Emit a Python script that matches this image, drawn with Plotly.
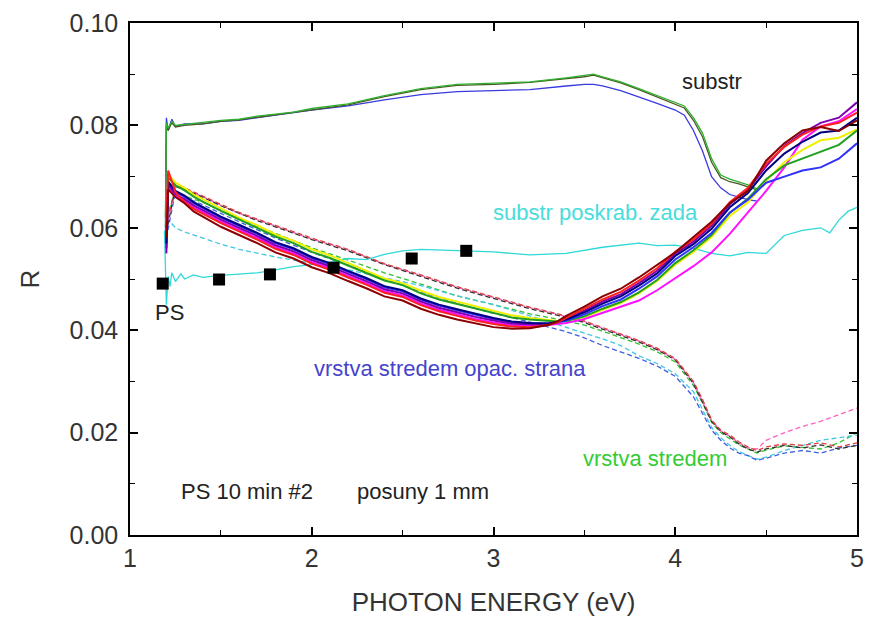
import plotly.graph_objects as go

# ---------------- photon energies (eV) ----------------
ps_E = [1.20, 1.21, 1.25, 1.30, 1.35, 1.40, 1.50, 1.60, 1.70, 1.80, 1.90, 2.00, 2.10,
        2.20, 2.30, 2.40, 2.50, 2.60, 2.70, 2.80, 2.90, 3.00, 3.10, 3.20, 3.30, 3.35,
        3.40, 3.50, 3.60, 3.70, 3.80, 3.90, 4.00, 4.10, 4.20, 4.30, 4.40, 4.50, 4.60,
        4.70, 4.80, 4.90, 5.00]

dash_E = [1.20, 1.25, 1.30, 1.40, 1.50, 1.60, 1.70, 1.80, 1.90, 2.00, 2.20, 2.40, 2.60,
          2.80, 3.00, 3.20, 3.40, 3.50, 3.60, 3.70, 3.80, 3.90, 4.00, 4.10, 4.15, 4.20,
          4.25, 4.30, 4.35, 4.40, 4.45, 4.50, 4.60, 4.70, 4.80, 4.90, 5.00]

sub_E = [1.195, 1.20, 1.21, 1.23, 1.25, 1.30, 1.40, 1.50, 1.60, 1.70, 1.80, 1.90, 2.00,
         2.20, 2.40, 2.60, 2.80, 3.00, 3.20, 3.40, 3.50, 3.55, 3.60, 3.70, 3.80, 3.90,
         4.00, 4.05, 4.10, 4.15, 4.20, 4.25, 4.30, 4.35, 4.40, 4.45]

cyan_E = [1.19, 1.20, 1.21, 1.22, 1.23, 1.25, 1.28, 1.30, 1.35, 1.40, 1.50, 1.60, 1.70,
          1.80, 1.90, 2.00, 2.10, 2.20, 2.30, 2.40, 2.50, 2.60, 2.80, 3.00, 3.20, 3.40,
          3.60, 3.80, 3.90, 4.00, 4.10, 4.20, 4.30, 4.40, 4.50, 4.60, 4.70, 4.80, 4.85,
          4.90, 4.95, 5.00]

# ---------------- reflectance, PS layer (solid) ----------------
R_yellow = [0.0580, 0.0705, 0.0688, 0.0678, 0.0665, 0.0656, 0.0637, 0.0620, 0.0605, 0.0587,
            0.0575, 0.0558, 0.0546, 0.0531, 0.0517, 0.0501, 0.0492, 0.0477, 0.0465, 0.0456,
            0.0446, 0.0437, 0.0429, 0.0424, 0.0420, 0.0418, 0.0419, 0.0426, 0.0440, 0.0453,
            0.0472, 0.0496, 0.0528, 0.0553, 0.0582, 0.0623, 0.0650, 0.0692, 0.0728, 0.0752,
            0.0771, 0.0776, 0.0792]
R_green = [0.0560, 0.0698, 0.0683, 0.0673, 0.0661, 0.0651, 0.0633, 0.0616, 0.0600, 0.0583,
           0.0570, 0.0553, 0.0541, 0.0526, 0.0512, 0.0497, 0.0488, 0.0472, 0.0460, 0.0451,
           0.0442, 0.0433, 0.0425, 0.0421, 0.0418, 0.0417, 0.0418, 0.0427, 0.0442, 0.0455,
           0.0474, 0.0498, 0.0531, 0.0556, 0.0586, 0.0629, 0.0657, 0.0695, 0.0722, 0.0735,
           0.0748, 0.0762, 0.0790]
R_blue = [0.0600, 0.0688, 0.0670, 0.0661, 0.0648, 0.0639, 0.0620, 0.0604, 0.0588, 0.0570,
          0.0558, 0.0541, 0.0529, 0.0514, 0.0500, 0.0484, 0.0476, 0.0460, 0.0448, 0.0439,
          0.0430, 0.0422, 0.0416, 0.0413, 0.0413, 0.0415, 0.0419, 0.0431, 0.0447, 0.0460,
          0.0481, 0.0505, 0.0538, 0.0562, 0.0590, 0.0630, 0.0655, 0.0688, 0.0700, 0.0712,
          0.0718, 0.0735, 0.0765]
R_navy = [0.0570, 0.0690, 0.0672, 0.0663, 0.0650, 0.0641, 0.0622, 0.0606, 0.0590, 0.0572,
          0.0560, 0.0543, 0.0531, 0.0516, 0.0502, 0.0486, 0.0478, 0.0462, 0.0450, 0.0441,
          0.0432, 0.0424, 0.0417, 0.0414, 0.0413, 0.0416, 0.0421, 0.0435, 0.0452, 0.0466,
          0.0487, 0.0511, 0.0545, 0.0568, 0.0598, 0.0640, 0.0668, 0.0712, 0.0745, 0.0768,
          0.0786, 0.0790, 0.0815]
R_purple = [0.0550, 0.0684, 0.0666, 0.0656, 0.0644, 0.0635, 0.0616, 0.0600, 0.0584, 0.0566,
            0.0554, 0.0537, 0.0525, 0.0510, 0.0496, 0.0480, 0.0472, 0.0456, 0.0444, 0.0435,
            0.0426, 0.0419, 0.0413, 0.0411, 0.0412, 0.0416, 0.0423, 0.0438, 0.0456, 0.0470,
            0.0492, 0.0516, 0.0549, 0.0573, 0.0604, 0.0646, 0.0674, 0.0720, 0.0760, 0.0785,
            0.0805, 0.0815, 0.0845]
R_magenta = [0.0560, 0.0680, 0.0662, 0.0652, 0.0640, 0.0631, 0.0612, 0.0596, 0.0580, 0.0562,
             0.0550, 0.0533, 0.0521, 0.0506, 0.0492, 0.0476, 0.0468, 0.0452, 0.0440, 0.0431,
             0.0422, 0.0415, 0.0410, 0.0409, 0.0410, 0.0412, 0.0414, 0.0422, 0.0434, 0.0445,
             0.0458, 0.0478, 0.0502, 0.0525, 0.0552, 0.0588, 0.0630, 0.0672, 0.0718, 0.0772,
             0.0798, 0.0808, 0.0832]
R_red = [0.0620, 0.0712, 0.0670, 0.0650, 0.0637, 0.0628, 0.0609, 0.0593, 0.0577, 0.0559,
         0.0547, 0.0530, 0.0518, 0.0503, 0.0489, 0.0473, 0.0465, 0.0449, 0.0437, 0.0428,
         0.0419, 0.0412, 0.0407, 0.0406, 0.0410, 0.0415, 0.0424, 0.0441, 0.0460, 0.0475,
         0.0497, 0.0521, 0.0553, 0.0577, 0.0608, 0.0650, 0.0678, 0.0725, 0.0758, 0.0782,
         0.0798, 0.0805, 0.0825]
R_maroon = [0.0580, 0.0675, 0.0660, 0.0648, 0.0632, 0.0622, 0.0602, 0.0586, 0.0570, 0.0552,
            0.0540, 0.0523, 0.0511, 0.0496, 0.0482, 0.0466, 0.0458, 0.0442, 0.0430, 0.0421,
            0.0413, 0.0406, 0.0403, 0.0404, 0.0410, 0.0417, 0.0428, 0.0446, 0.0466, 0.0481,
            0.0503, 0.0527, 0.0552, 0.0582, 0.0612, 0.0648, 0.0672, 0.0731, 0.0765, 0.0790,
            0.0797, 0.0789, 0.0810]

# ---------------- reflectance, layer centre (dashed) ----------------
D_red = [0.0600, 0.0685, 0.0678, 0.0662, 0.0645, 0.0630, 0.0617, 0.0605, 0.0592, 0.0580,
         0.0558, 0.0530, 0.0508, 0.0485, 0.0465, 0.0445, 0.0428, 0.0418, 0.0405, 0.0392,
         0.0380, 0.0365, 0.0345, 0.0300, 0.0265, 0.0225, 0.0205, 0.0195, 0.0182, 0.0172,
         0.0165, 0.0172, 0.0178, 0.0175, 0.0180, 0.0172, 0.0180]
D_black = [0.0590, 0.0680, 0.0675, 0.0660, 0.0643, 0.0628, 0.0614, 0.0602, 0.0590, 0.0577,
           0.0555, 0.0528, 0.0505, 0.0482, 0.0462, 0.0442, 0.0425, 0.0415, 0.0402, 0.0390,
           0.0377, 0.0362, 0.0342, 0.0296, 0.0260, 0.0222, 0.0202, 0.0192, 0.0178, 0.0168,
           0.0162, 0.0168, 0.0175, 0.0170, 0.0176, 0.0168, 0.0175]
D_pink = [0.0600, 0.0682, 0.0676, 0.0661, 0.0644, 0.0628, 0.0616, 0.0603, 0.0591, 0.0578,
          0.0557, 0.0529, 0.0507, 0.0484, 0.0464, 0.0444, 0.0427, 0.0417, 0.0404, 0.0391,
          0.0379, 0.0363, 0.0343, 0.0298, 0.0262, 0.0224, 0.0203, 0.0193, 0.0180, 0.0170,
          0.0168, 0.0185, 0.0200, 0.0212, 0.0222, 0.0235, 0.0248]
D_green = [0.0620, 0.0670, 0.0662, 0.0650, 0.0634, 0.0618, 0.0603, 0.0589, 0.0575, 0.0561,
           0.0537, 0.0512, 0.0490, 0.0467, 0.0450, 0.0432, 0.0418, 0.0410, 0.0398, 0.0386,
           0.0373, 0.0358, 0.0338, 0.0292, 0.0258, 0.0220, 0.0200, 0.0188, 0.0176, 0.0168,
           0.0160, 0.0166, 0.0174, 0.0171, 0.0168, 0.0180, 0.0200]
D_cyan = [0.0620, 0.0600, 0.0592, 0.0580, 0.0568, 0.0558, 0.0550, 0.0543, 0.0537, 0.0530,
          0.0518, 0.0503, 0.0487, 0.0467, 0.0450, 0.0428, 0.0405, 0.0395, 0.0383, 0.0370,
          0.0350, 0.0335, 0.0315, 0.0280, 0.0245, 0.0210, 0.0190, 0.0175, 0.0163, 0.0155,
          0.0148, 0.0152, 0.0165, 0.0175, 0.0185, 0.0190, 0.0195]
D_blue = [0.0580, 0.0670, 0.0660, 0.0645, 0.0628, 0.0612, 0.0596, 0.0580, 0.0566, 0.0552,
          0.0527, 0.0500, 0.0475, 0.0452, 0.0433, 0.0416, 0.0397, 0.0385, 0.0370, 0.0358,
          0.0345, 0.0330, 0.0310, 0.0270, 0.0238, 0.0205, 0.0185, 0.0170, 0.0160, 0.0155,
          0.0146, 0.0150, 0.0160, 0.0165, 0.0160, 0.0170, 0.0175]

# ---------------- reflectance, substrate ----------------
S_green = [0.0600, 0.0805, 0.0795, 0.0808, 0.0800, 0.0802, 0.0805, 0.0810, 0.0812, 0.0818,
           0.0822, 0.0826, 0.0833, 0.0842, 0.0858, 0.0872, 0.0880, 0.0882, 0.0885, 0.0893,
           0.0897, 0.0900, 0.0895, 0.0885, 0.0872, 0.0858, 0.0845, 0.0838, 0.0815, 0.0785,
           0.0735, 0.0703, 0.0695, 0.0690, 0.0684, 0.0676]
S_olive = [0.0620, 0.0800, 0.0790, 0.0805, 0.0797, 0.0800, 0.0803, 0.0808, 0.0811, 0.0816,
           0.0821, 0.0825, 0.0831, 0.0840, 0.0856, 0.0870, 0.0878, 0.0880, 0.0884, 0.0891,
           0.0895, 0.0898, 0.0893, 0.0883, 0.0870, 0.0856, 0.0842, 0.0834, 0.0810, 0.0778,
           0.0728, 0.0698, 0.0690, 0.0686, 0.0680, 0.0674]
S_blue = [0.0570, 0.0815, 0.0790, 0.0812, 0.0798, 0.0803, 0.0803, 0.0808, 0.0810, 0.0815,
          0.0820, 0.0824, 0.0830, 0.0838, 0.0850, 0.0860, 0.0866, 0.0868, 0.0870, 0.0877,
          0.0880, 0.0880, 0.0877, 0.0868, 0.0856, 0.0843, 0.0830, 0.0820, 0.0790, 0.0750,
          0.0700, 0.0678, 0.0665, 0.0660, 0.0655, 0.0652]

# ---------------- substrate scraped on the back ----------------
C_cyan = [0.0595, 0.0450, 0.0505, 0.0485, 0.0512, 0.0495, 0.0510, 0.0500, 0.0508, 0.0503,
          0.0507, 0.0510, 0.0512, 0.0518, 0.0524, 0.0528, 0.0533, 0.0540, 0.0538, 0.0548,
          0.0555, 0.0558, 0.0555, 0.0553, 0.0547, 0.0550, 0.0562, 0.0570, 0.0565, 0.0566,
          0.0560, 0.0550, 0.0545, 0.0552, 0.0550, 0.0585, 0.0595, 0.0600, 0.0590, 0.0615,
          0.0632, 0.0640]

# ---------------- PS reference points ----------------
pt_E = [1.18, 1.49, 1.77, 2.12, 2.55, 2.85]
pt_R = [0.0491, 0.0499, 0.0509, 0.0522, 0.0540, 0.0555]

fig = go.Figure()

dashed = [(D_green, "#30c030"), (D_cyan, "#40c8e0"), (D_blue, "#4060e0"),
          (D_pink, "#ff60c0"), (D_black, "#303030"), (D_red, "#e04040")]
for ys, col in dashed:
    fig.add_trace(go.Scatter(x=dash_E, y=ys, mode="lines",
                             line=dict(color=col, width=1.3, dash="5px,3px")))

for ys, col in [(S_blue, "#3a3ae0"), (S_olive, "#4a5a20"), (S_green, "#30b030")]:
    fig.add_trace(go.Scatter(x=sub_E, y=ys, mode="lines", line=dict(color=col, width=1.3)))

fig.add_trace(go.Scatter(x=cyan_E, y=C_cyan, mode="lines", line=dict(color="#30d8d8", width=1.3)))

solid = [(R_magenta, "#ff10ff"), (R_yellow, "#f0f000"), (R_green, "#20a020"),
         (R_blue, "#3030ff"), (R_purple, "#8000b0"), (R_navy, "#000080"),
         (R_red, "#ff2020"), (R_maroon, "#8b0000")]
for ys, col in solid:
    fig.add_trace(go.Scatter(x=ps_E, y=ys, mode="lines", line=dict(color=col, width=2)))

fig.add_trace(go.Scatter(x=pt_E, y=pt_R, mode="markers",
                         marker=dict(symbol="square", size=12, color="black")))

font = "Liberation Sans, Arial, sans-serif"
notes = [
    dict(x=4.20, y=0.0885, text="substr", color="#222222", xanchor="center"),
    dict(x=3.56, y=0.0629, text="substr poskrab. zada", color="#48dcdc", xanchor="center"),
    dict(x=1.218, y=0.0435, text="PS", color="#222222", xanchor="center"),
    dict(x=3.52, y=0.0325, text="vrstva stredem opac. strana", color="#4444cc", xanchor="right"),
    dict(x=3.89, y=0.0149, text="vrstva stredem", color="#33cc33", xanchor="center"),
    dict(x=1.272, y=0.0085, text="PS 10 min #2", color="#222222", xanchor="left"),
    dict(x=2.237, y=0.0085, text="posuny 1 mm", color="#222222", xanchor="left"),
]
for n in notes:
    fig.add_annotation(x=n["x"], y=n["y"], text=n["text"], showarrow=False,
                       xanchor=n["xanchor"], yanchor="middle",
                       font=dict(family=font, size=22, color=n["color"]))

axis_common = dict(showline=True, linecolor="black", linewidth=1.5, mirror="ticks",
                   ticks="inside", ticklen=8, tickwidth=1.5, tickcolor="black",
                   showgrid=False, zeroline=False,
                   tickfont=dict(family=font, size=25, color="#333333"))

fig.update_xaxes(range=[1, 5], dtick=1, tick0=1,
                 minor=dict(ticks="inside", dtick=0.5, ticklen=5, tickwidth=1.3, tickcolor="black"),
                 title=dict(text="PHOTON ENERGY (eV)", standoff=22,
                            font=dict(family=font, size=26, color="#333333")),
                 **axis_common)
fig.update_yaxes(range=[0, 0.10], dtick=0.02, tick0=0, tickformat=".2f", ticklabelstandoff=5,
                 minor=dict(ticks="inside", dtick=0.01, ticklen=5, tickwidth=1.3, tickcolor="black"),
                 title=dict(text="R", standoff=22,
                            font=dict(family=font, size=26, color="#333333")),
                 **axis_common)

fig.update_layout(width=873, height=630, showlegend=False,
                  margin=dict(l=130, r=9, t=18, b=95),
                  plot_bgcolor="white", paper_bgcolor="white")

fig.write_html("out.html")
